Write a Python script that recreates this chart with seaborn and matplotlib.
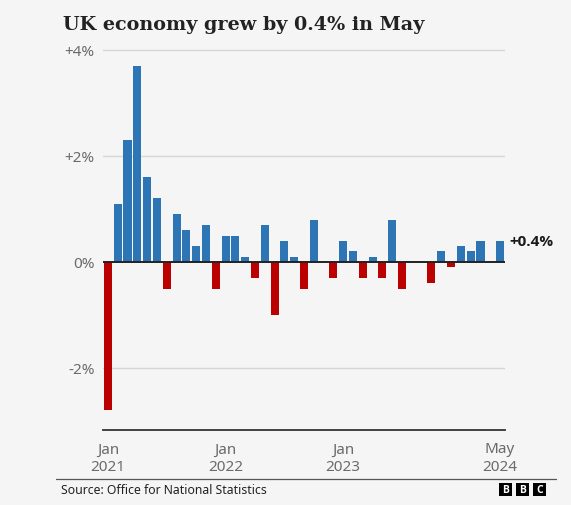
import matplotlib
matplotlib.use("Agg")
import matplotlib.pyplot as plt
import seaborn as sns
import pandas as pd
from matplotlib.patches import Rectangle

# ---- data (monthly GDP growth, %) ----
months = list(pd.date_range("2021-01-01", "2024-05-01", freq="MS").strftime("%b %Y"))
growth = [-2.8, 1.1, 2.3, 3.7, 1.6, 1.2, -0.5, 0.9, 0.6, 0.3, 0.7, -0.5,   # 2021
          0.5, 0.5, 0.1, -0.3, 0.7, -1.0, 0.4, 0.1, -0.5, 0.8, 0.0, -0.3,    # 2022
          0.4, 0.2, -0.3, 0.1, -0.3, 0.8, -0.5, 0.0, 0.0, -0.4, 0.2, -0.1,   # 2023
          0.3, 0.2, 0.4, 0.0, 0.4]                                           # 2024
y_ticks = [-2, 0, 2, 4]
y_tick_labels = ["-2%", "0%", "+2%", "+4%"]
x_tick_months = ["Jan 2021", "Jan 2022", "Jan 2023", "May 2024"]
x_tick_labels = ["Jan\n2021", "Jan\n2022", "Jan\n2023", "May\n2024"]
title = "UK economy grew by 0.4% in May"
source = "Source: Office for National Statistics"

BLUE = "#2e75b6"
RED = "#bb0000"
BG = "#f5f5f5"
GREY_TXT = "#6b6b6b"

sns.set_style("white")
plt.rcParams["font.family"] = ["Noto Sans", "DejaVu Sans"]

df = pd.DataFrame({"month": months, "growth": growth})
df["sign"] = ["up" if v >= 0 else "down" for v in df["growth"]]

W, H = 571, 506
fig = plt.figure(figsize=(W / 100, H / 100), dpi=100, facecolor=BG)

# axes placement in pixels
px_per_unit = 53.0
zero_y = 263.0
ymin, ymax = -3.164, 4.1
ax_left, ax_right = 103, 505
ax_top = zero_y - ymax * px_per_unit
ax_bottom = zero_y - ymin * px_per_unit
ax = fig.add_axes([ax_left / W, 1 - ax_bottom / H, (ax_right - ax_left) / W,
                   (ax_bottom - ax_top) / H])
ax.set_facecolor(BG)

sns.barplot(data=df, x="month", y="growth", hue="sign", order=months,
            palette={"up": BLUE, "down": RED}, dodge=False, width=0.82,
            saturation=1, legend=False, ax=ax, zorder=2, linewidth=0)

ax.set_xlim(-0.5, len(months) - 0.5)
ax.set_ylim(ymin, ymax)

# grid and zero line
for t in y_ticks:
    if t != 0:
        ax.axhline(t, color="#d6d6d6", lw=1.0, zorder=0)
ax.axhline(0, color="#222222", lw=1.4, zorder=3)

ax.set_yticks(y_ticks)
ax.set_yticklabels(y_tick_labels)
ax.tick_params(axis="y", length=0, pad=6, labelsize=11, labelcolor=GREY_TXT)

ax.set_xticks([months.index(m) for m in x_tick_months])
ax.set_xticklabels(x_tick_labels, linespacing=1.2)
ax.tick_params(axis="x", length=4.5, width=1, color="#555555", pad=4,
               labelsize=11, labelcolor=GREY_TXT, direction="out")

for s in ["top", "right", "left"]:
    ax.spines[s].set_visible(False)
ax.spines["bottom"].set_color("#333333")
ax.spines["bottom"].set_linewidth(1.3)
ax.set_xlabel("")
ax.set_ylabel("")

# end label
ax.annotate(f"{growth[-1]:+.1f}%", xy=(len(months) - 1, growth[-1]),
            xytext=(6.5, 0), textcoords="offset points", ha="left", va="center",
            fontsize=11, fontweight="bold", color="#1a1a1a", annotation_clip=False,
            family=["Open Sans", "DejaVu Sans"])

# title
fig.text(63 / W, 1 - 30 / H, title, ha="left", va="baseline",
         fontsize=13.8, fontweight="bold", color="#222222",
         family=["DejaVu Serif"])

# footer rule and source
fig.add_artist(plt.Line2D([56 / W, 556 / W], [1 - 480 / H, 1 - 480 / H],
                          color="#555555", lw=0.9))
fig.text(61 / W, 1 - 491 / H, source, ha="left", va="center",
         fontsize=8.8, color="#222222")

# BBC logo
for i, letter in enumerate("BBC"):
    x0 = 499 + i * 17
    fig.add_artist(Rectangle((x0 / W, 1 - 496.5 / H), 12.5 / W, 12.5 / H,
                             transform=fig.transFigure, color="black", lw=0))
    fig.text((x0 + 6.25) / W, 1 - 490.2 / H, letter, ha="center", va="center",
             fontsize=7.5, fontweight="bold", color="white",
             family=["Open Sans", "DejaVu Sans"])

fig.savefig("out.png", dpi=100, facecolor=BG)
